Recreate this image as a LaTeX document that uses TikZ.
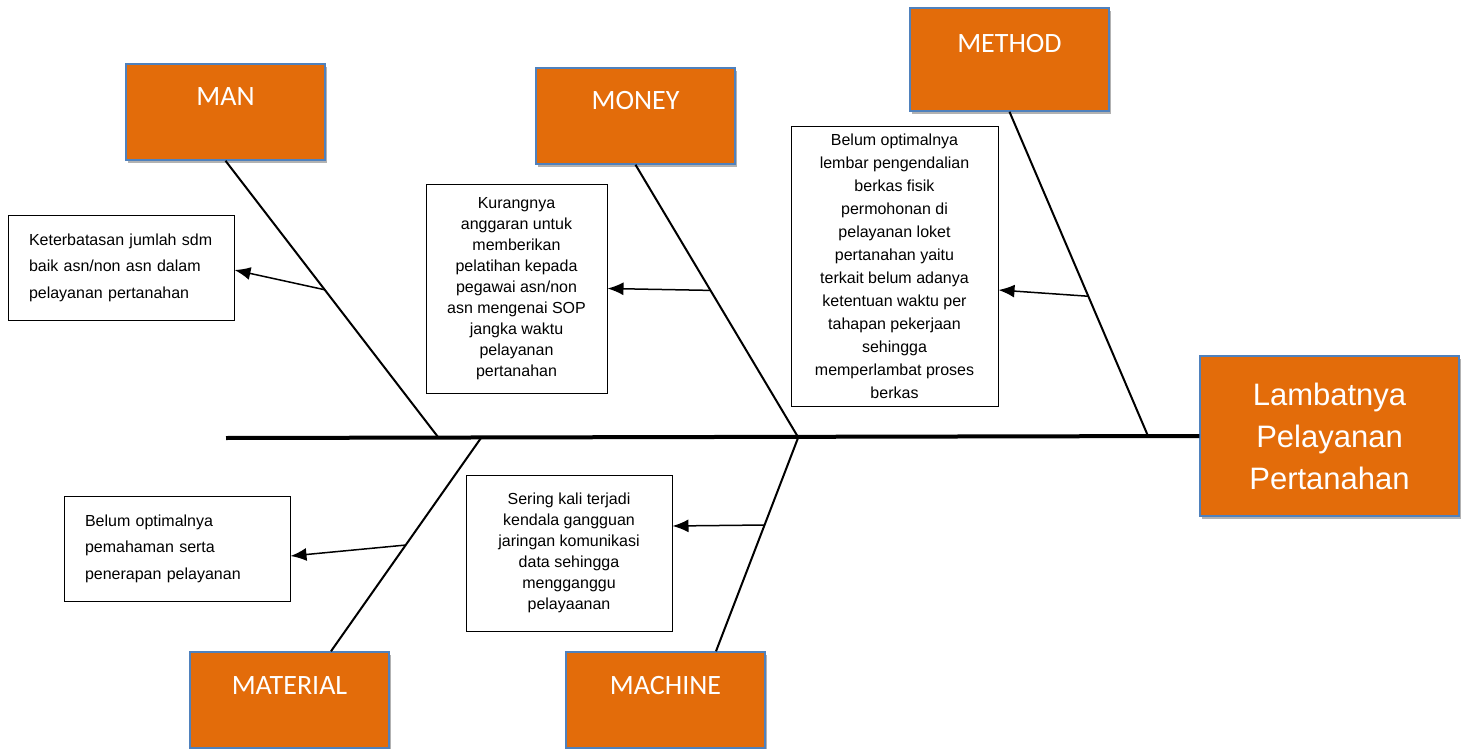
\documentclass[tikz,border=0pt]{standalone}
\usepackage{fontspec}
\setmainfont{Liberation Sans}
\newfontfamily\catfont{Carlito}
\usetikzlibrary{calc,arrows.meta,shadows}
\definecolor{catorange}{HTML}{E36C0A}
\definecolor{catblue}{HTML}{4F81BD}
\begin{document}
\begin{tikzpicture}[x=1pt,y=-1pt,
  shadowed/.style={drop shadow={shadow xshift=2pt,shadow yshift=-3pt,opacity=0.3,fill=black}},
  catbox/.style={draw=catblue,line width=1.5pt,fill=catorange,text=white,shadowed,
    font=\catfont\fontsize{28}{30}\selectfont,minimum width=199pt,inner sep=0pt,
    text height=42pt,text depth=54pt},
  headbox/.style={draw=catblue,line width=1.5pt,fill=catorange,text=white,shadowed,
    font=\fontsize{31}{42}\selectfont,align=center,minimum width=259pt,minimum height=160pt,inner sep=0pt},
  causebox/.style={draw=black,line width=1pt,fill=white,inner sep=0pt,
    font=\fontsize{16}{21}\selectfont,align=center},
  leftbox/.style={causebox,font=\fontsize{16}{26.5}\selectfont,align=left,text width=184pt,
    minimum width=226pt,minimum height=105pt},
  bone/.style={line width=2pt,black},
  spine/.style={line width=4pt,black},
  causearrow/.style={line width=1.5pt,-{Latex[length=16pt,width=13pt]}}]
\useasboundingbox (0,0) rectangle (1467,749);

% category boxes
\node[catbox] (man) at (225.5,112) {MAN};
\node[catbox] (money) at (635.5,116) {MONEY};
\node[catbox,text height=45pt,text depth=58pt] (method) at (1009.5,59.5) {METHOD};
\node[catbox] (material) at (289.5,700) {MATERIAL};
\node[catbox] (machine) at (665.5,700) {MACHINE};

% head
\node[headbox] (head) at (1329.5,436) {Lambatnya\\Pelayanan\\Pertanahan};

% cause boxes
\node[leftbox] (b1) at (121,267.5) {Keterbatasan jumlah sdm\\baik asn/non asn dalam\\pelayanan pertanahan};
\node[causebox,minimum width=181pt,minimum height=209pt] (b2) at (516.5,288.5)
  {Kurangnya\\anggaran untuk\\memberikan\\pelatihan kepada\\pegawai asn/non\\asn mengenai SOP\\jangka waktu\\pelayanan\\pertanahan};
\node[causebox,font=\fontsize{16}{23}\selectfont,minimum width=207pt,minimum height=279pt] (b3) at (894.5,266.5)
  {Belum optimalnya\\lembar pengendalian\\berkas fisik\\permohonan di\\pelayanan loket\\pertanahan yaitu\\terkait belum adanya\\ketentuan waktu per\\tahapan pekerjaan\\sehingga\\memperlambat proses\\berkas};
\node[leftbox] (b4) at (177,548.5) {Belum optimalnya\\pemahaman serta\\penerapan pelayanan};
\node[causebox,minimum width=206pt,minimum height=156pt] (b5) at (569,553)
  {Sering kali terjadi\\kendala gangguan\\jaringan komunikasi\\data sehingga\\mengganggu\\pelayaanan};

% spine
\coordinate (tail) at (226,438);
\draw[spine] (tail) -- (head.west);

% bone ends on spine
\coordinate (sman) at (438,437);
\coordinate (smoney) at (798,437);
\coordinate (smethod) at (1148,436);
\coordinate (smat) at (481,438);
\coordinate (smach) at (798,438);
\coordinate (tmat) at ($(material.north)+(41.5,0)$);
\coordinate (tmach) at ($(machine.north)+(50.5,0)$);

\draw[bone] (man.south) -- (sman);
\draw[bone] (money.south) -- (smoney);
\draw[bone] (method.south) -- (smethod);
\draw[bone] (tmat) -- (smat);
\draw[bone] (tmach) -- (smach);

% arrow starts
\coordinate (pman) at ($(man.south)!0.467!(sman)$);
\coordinate (pmoney) at ($(money.south)!0.4615!(smoney)$);
\coordinate (pmethod) at ($(method.south)!0.569!(smethod)$);
\coordinate (pmat) at ($(smat)!0.502!(tmat)$);
\coordinate (pmach) at ($(smach)!0.408!(tmach)$);

\draw[causearrow] (pman) -- ([yshift=-2.5pt]b1.east);
\draw[causearrow] (pmoney) -- (b2.east);
\draw[causearrow] (pmethod) -- ([yshift=-23.5pt]b3.east);
\draw[causearrow] (pmat) -- ([yshift=-7.5pt]b4.east);
\draw[causearrow] (pmach) -- ([yshift=27pt]b5.east);
\end{tikzpicture}
\end{document}
